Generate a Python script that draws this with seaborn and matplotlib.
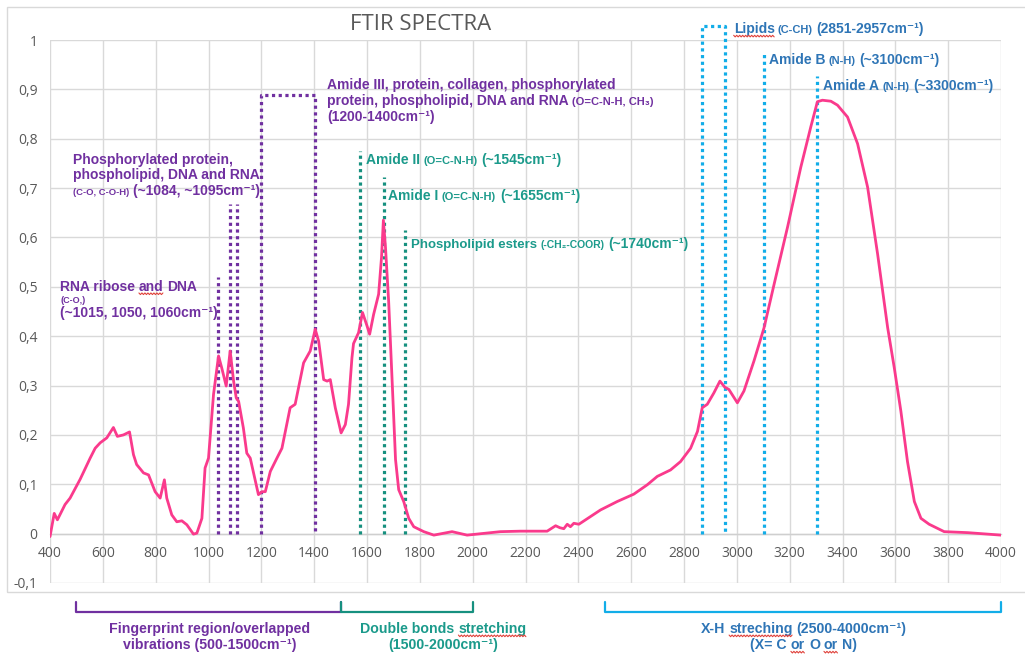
import numpy as np
import pandas as pd
import matplotlib
matplotlib.use("Agg")
import matplotlib.pyplot as plt
import seaborn as sns
from matplotlib.transforms import IdentityTransform
from matplotlib.patches import Rectangle
from matplotlib.lines import Line2D

# ---------------- data ----------------
wavenumber = [400, 416, 428, 457, 476, 514, 552, 571, 590, 615, 640, 655, 678, 701, 716,
              728, 754, 773, 798, 817, 833, 842, 861, 880, 899, 918, 943, 956, 975, 987,
              1000, 1019, 1038, 1050, 1067, 1082, 1095, 1105, 1114, 1132, 1145, 1158, 1189,
              1202, 1215, 1234, 1259, 1278, 1309, 1328, 1360, 1385, 1404, 1417, 1436, 1449,
              1461, 1480, 1502, 1518, 1530, 1543, 1549, 1568, 1583, 1600, 1610, 1625, 1644,
              1655, 1662, 1670, 1682, 1692, 1700, 1708, 1720, 1739, 1758, 1777, 1815, 1853,
              1922, 1979, 2105, 2181, 2282, 2314, 2330, 2345, 2358, 2370, 2383, 2402, 2484,
              2547, 2610, 2661, 2699, 2749, 2787, 2825, 2851, 2869, 2888, 2913, 2936, 2954,
              2970, 3002, 3027, 3065, 3103, 3141, 3192, 3242, 3280, 3305, 3324, 3356, 3381,
              3419, 3457, 3495, 3533, 3571, 3596, 3621, 3646, 3672, 3697, 3728, 3785, 3874,
              4000]
absorbance = [-0.006, 0.041, 0.028, 0.059, 0.072, 0.110, 0.153, 0.173, 0.184, 0.194, 0.215,
              0.197, 0.200, 0.206, 0.160, 0.140, 0.123, 0.119, 0.085, 0.072, 0.109, 0.072,
              0.038, 0.024, 0.026, 0.018, -0.001, 0.001, 0.031, 0.133, 0.153, 0.282, 0.360,
              0.336, 0.299, 0.370, 0.309, 0.275, 0.268, 0.214, 0.163, 0.153, 0.079, 0.085,
              0.085, 0.126, 0.153, 0.173, 0.255, 0.262, 0.346, 0.370, 0.414, 0.390, 0.312,
              0.309, 0.312, 0.255, 0.204, 0.221, 0.262, 0.356, 0.385, 0.407, 0.448, 0.421,
              0.404, 0.444, 0.485, 0.560, 0.635, 0.580, 0.470, 0.350, 0.250, 0.150, 0.089,
              0.065, 0.031, 0.014, 0.004, -0.003, 0.004, -0.003, 0.004, 0.005, 0.005, 0.016,
              0.012, 0.010, 0.019, 0.014, 0.021, 0.019, 0.048, 0.065, 0.080, 0.099, 0.116,
              0.129, 0.146, 0.173, 0.207, 0.255, 0.262, 0.285, 0.309, 0.297, 0.292, 0.265,
              0.289, 0.350, 0.417, 0.505, 0.621, 0.742, 0.824, 0.875, 0.878, 0.876, 0.868,
              0.844, 0.790, 0.702, 0.566, 0.417, 0.336, 0.248, 0.146, 0.065, 0.031, 0.019,
              0.004, 0.002, -0.003]

x_ticks = list(range(400, 4001, 200))
y_ticks = [-0.1, 0, 0.1, 0.2, 0.3, 0.4, 0.5, 0.6, 0.7, 0.8, 0.9, 1.0]
y_tick_labels = ["-0,1", "0", "0,1", "0,2", "0,3", "0,4", "0,5", "0,6", "0,7", "0,8", "0,9", "1"]

# marker lines (wavenumber, top)
purple_lines = [1035, 1080, 1107]
purple_tops = [0.52, 0.667, 0.667]
purple_box = [1198, 1404]
purple_box_top = 0.888
teal_lines = [1572, 1663, 1743]
teal_tops = [0.776, 0.722, 0.615]
blue_box = [2868, 2957]
blue_box_top = 1.028
blue_lines = [3103, 3305]
blue_tops = [0.974, 0.927]

# region brackets
regions = [(500, 1500), (1500, 2000), (2500, 4000)]

PURPLE = "#7030A0"
TEAL_TXT = "#1B9A8B"
TEAL_LN = "#16907F"
BLUE_TXT = "#2E75B6"
BLUE_LN = "#12ADE8"
PINK = "#FA3A8C"
GRID = "#D9D9D9"
GRAY = "#595959"
WAVY = "#E0413A"
BOLD_FAM = ["Liberation Sans", "DejaVu Sans"]

sns.set_style("white")
fig = plt.figure(figsize=(10.25, 6.55), dpi=100)
W, H = 1025, 655
ax = fig.add_axes([50 / W, 1 - 583 / H, 951 / W, 543 / H])

df = pd.DataFrame({"wn": wavenumber, "abs": absorbance})
sns.lineplot(data=df, x="wn", y="abs", ax=ax, color=PINK, lw=2.0, estimator=None, sort=False, zorder=5)

ax.set_xlim(400, 4000)
ax.set_ylim(-0.1, 1.0)
ax.set_xticks(x_ticks)
ax.set_xticklabels([str(t) for t in x_ticks])
ax.set_yticks(y_ticks)
ax.set_yticklabels(y_tick_labels)
ax.set_xlabel("")
ax.set_ylabel("")
ax.grid(True, color=GRID, lw=1.0)
ax.set_axisbelow(True)
for s in ["left", "right", "top"]:
    ax.spines[s].set_visible(False)
ax.spines["bottom"].set_position(("data", 0))
ax.spines["bottom"].set_color("#CFCFCF")
ax.spines["bottom"].set_linewidth(1.0)
ax.tick_params(axis="both", length=0, labelsize=10, labelcolor=GRAY)
ax.tick_params(axis="x", pad=9)
ax.tick_params(axis="y", pad=9)
for lab in ax.get_xticklabels() + ax.get_yticklabels():
    lab.set_family("Open Sans")

fig.text(421 / W, 1 - 25 / H, "FTIR SPECTRA", ha="center", va="center",
         fontsize=16, color=GRAY, family="Open Sans")

fig.add_artist(Rectangle((7 / W, 1 - 592 / H), 1.2, 585 / H, transform=fig.transFigure,
                         fill=False, edgecolor=GRID, lw=1.0))

DOT = dict(lw=2.3, linestyle=(0, (1, 1.1)), dash_capstyle="butt", clip_on=False, zorder=4)
for x, t in zip(purple_lines, purple_tops):
    ax.plot([x, x], [0, t], color=PURPLE, **DOT)
ax.plot([purple_box[0], purple_box[0], purple_box[1], purple_box[1]],
        [0, purple_box_top, purple_box_top, 0], color=PURPLE, **DOT)
for x, t in zip(teal_lines, teal_tops):
    ax.plot([x, x], [0, t], color=TEAL_LN, **DOT)
ax.plot([blue_box[0], blue_box[0], blue_box[1], blue_box[1]],
        [0, blue_box_top, blue_box_top, 0], color=BLUE_LN, **DOT)
for x, t in zip(blue_lines, blue_tops):
    ax.plot([x, x], [0, t], color=BLUE_LN, **DOT)

renderer = fig.canvas.get_renderer()


def wavy(x0, x1, y):
    xs = np.arange(x0, x1 + 0.1, 1.5)
    ys = y + np.where(np.arange(len(xs)) % 2 == 0, 0.8, -0.8)
    ax.add_line(Line2D(xs, ys, transform=IdentityTransform(), color=WAVY, lw=0.8,
                       clip_on=False, zorder=6))


def rich(x, y, pieces, color, center=False):
    """pieces: (text, size[, gap_before, wavy])"""
    bx, by = ax.transData.transform((x, y))
    cx = bx
    made = []
    for i, p in enumerate(pieces):
        s, size = p[0], p[1]
        gap = p[2] if len(p) > 2 else (i > 0)
        wv = p[3] if len(p) > 3 else False
        if gap:
            cx += 0.28 * size * 100 / 72
        t = ax.text(cx, by, s, transform=IdentityTransform(), fontsize=size,
                    fontweight="bold", color=color, family=BOLD_FAM,
                    va="baseline", ha="left", clip_on=False, zorder=6)
        bb = t.get_window_extent(renderer)
        made.append((t, bb.x0, bb.x1, wv))
        cx = bb.x1
    shift = -(cx - bx) / 2 if center else 0
    for t, a, b, wv in made:
        if shift:
            px, py = t.get_position()
            t.set_position((px + shift, py))
        if wv:
            wavy(a + shift, b + shift, by - 3)


SM = 6.8
# purple labels
rich(438, 0.492, [("RNA ribose", 10), ("and", 10, True, True), ("DNA", 10)], PURPLE)
rich(438, 0.467, [("(C-O,)", 6.5)], PURPLE)
rich(438, 0.439, [("(~1015, 1050, 1060cm⁻¹)", 10)], PURPLE)
rich(487, 0.748, [("Phosphorylated protein,", 10)], PURPLE)
rich(487, 0.7175, [("phospholipid, DNA and RNA", 10)], PURPLE)
rich(487, 0.685, [("(C-O, C-O-H)", SM), ("(~1084, ~1095cm⁻¹)", 10)], PURPLE)
rich(1450, 0.900, [("Amide III, protein, collagen, phosphorylated", 10)], PURPLE)
rich(1450, 0.868, [("protein, phospholipid, DNA and RNA", 10), ("(O=C-N-H, CH₃)", 8)], PURPLE)
rich(1450, 0.835, [("(1200-1400cm⁻¹)", 10)], PURPLE)
# teal labels
rich(1597, 0.748, [("Amide II", 10), ("(O=C-N-H)", 8), ("(~1545cm⁻¹)", 10)], TEAL_TXT)
rich(1681, 0.675, [("Amide I", 10), ("(O=C-N-H)", 8), ("(~1655cm⁻¹)", 10)], TEAL_TXT)
rich(1768, 0.579, [("Phospholipid esters", 9.5), ("(-CH₂-COOR)", 7.5), ("(~1740cm⁻¹)", 10)], TEAL_TXT)
# blue labels
rich(2988, 1.014, [("Lipids", 10, False, True), ("(C-CH)", 8), ("(2851-2957cm⁻¹)", 10)], BLUE_TXT)
rich(3121, 0.951, [("Amide B", 10), ("(N-H)", 8), ("(~3100cm⁻¹)", 10)], BLUE_TXT)
rich(3326, 0.898, [("Amide A", 10), ("(N-H)", 8), ("(~3300cm⁻¹)", 10)], BLUE_TXT)

# region brackets
br_y, br_top = -0.1585, -0.138
for (a, b), c in zip(regions, [PURPLE, TEAL_LN, BLUE_LN]):
    ax.plot([a, a, b, b], [br_top, br_y, br_y, br_top], color=c, lw=1.6, clip_on=False)

BS = 10.2
rich(1003, -0.201, [("Fingerprint region/overlapped", BS)], PURPLE, center=True)
rich(1003, -0.234, [("vibrations (500-1500cm⁻¹)", BS)], PURPLE, center=True)
rich(1889, -0.201, [("Double bonds", BS), ("stretching", BS, True, True)], TEAL_TXT, center=True)
rich(1889, -0.234, [("(1500-2000cm⁻¹)", BS)], TEAL_TXT, center=True)
rich(3253, -0.201, [("X-H", BS), ("streching", BS, True, True), ("(2500-4000cm⁻¹)", BS)],
     BLUE_TXT, center=True)
rich(3253, -0.234, [("(X= C", BS), ("or", BS, True, True), ("O", BS), ("or", BS, True, True),
                    ("N)", BS)], BLUE_TXT, center=True)

fig.savefig("out.png", dpi=100)
